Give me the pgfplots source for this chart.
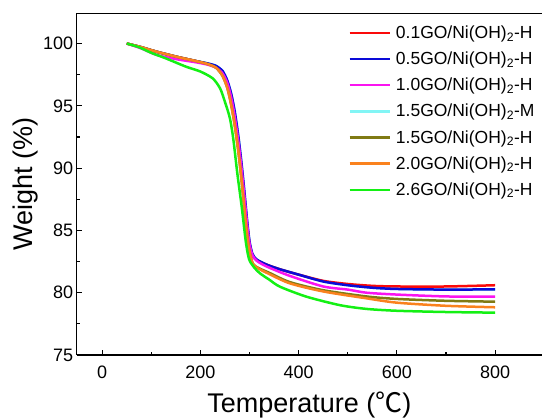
\documentclass[border=0pt]{standalone}
\usepackage{pgfplots}
\pgfplotsset{compat=1.18}
\usepackage{fontspec}
\setmainfont{Liberation Sans}
\newfontfamily\cjk{Noto Sans CJK SC}

\definecolor{cRed}{RGB}{250,10,10}
\definecolor{cBlue}{RGB}{10,10,215}
\definecolor{cMag}{RGB}{250,20,240}
\definecolor{cCyan}{RGB}{130,245,245}
\definecolor{cOlive}{RGB}{128,122,20}
\definecolor{cOrange}{RGB}{250,130,30}
\definecolor{cGreen}{RGB}{20,240,20}

\begin{document}
\begin{tikzpicture}
\begin{axis}[scale only axis, width=465.3bp, height=342bp,
  xmin=-52, xmax=895.5, ymin=75, ymax=102.45,
  axis lines*=left, axis line style={line width=1.5bp},
  xtick={0,200,...,800}, ytick={75,80,...,100},
  minor x tick num=1, minor y tick num=1,
  tick align=inside, major tick length=5bp, minor tick length=3bp,
  tick style={black, line width=1.2bp},
  ticklabel style={font=\fontsize{18bp}{20bp}\selectfont},
  xticklabel style={yshift=-7bp},
  /pgf/number format/assume math mode=true,
  xlabel={Temperature ({\cjk ℃})}, ylabel={Weight (\%)},
  label style={font=\fontsize{27bp}{30bp}\selectfont},
  xlabel style={yshift=-7bp}, ylabel style={yshift=-2bp},
  legend style={draw=none, fill=none, at={(0.995,0.975)}, anchor=north east,
    font=\fontsize{17.5bp}{19bp}\selectfont, row sep=8bp},
  legend cell align=left,
  legend image code/.code={\draw[#1] (0bp,0bp) -- (40bp,0bp); \path (43bp,0bp);},
  every axis plot/.append style={line width=2.5bp, smooth, tension=0.45}]
\coordinate (sw) at (rel axis cs:0,0);
\coordinate (ne) at (rel axis cs:1,1);
\draw[line width=1.5bp] (rel axis cs:0,1) -- (rel axis cs:1,1);

% 1.5GO-M lies under the others, so it is drawn first
\addplot[cCyan, forget plot] coordinates {
(50,100) (80,99.7) (110,99.35) (150,98.95) (190,98.6) (215,98.4) (232,98.2)
(245,97.8) (255,97.0) (263,95.9) (270,94.5) (277,92.6) (283,90.6) (289,88.3)
(295,85.8) (300,84.1) (306,83.1) (315,82.65) (335,82.25) (360,81.9) (400,81.45)
(450,80.9) (500,80.6) (550,80.4) (600,80.3) (700,80.25) (800,80.27)};

\addplot[cRed] coordinates {
(50,100) (80,99.7) (110,99.35) (150,98.95) (190,98.6) (215,98.35) (232,98.1)
(245,97.6) (255,96.8) (263,95.6) (270,94.1) (277,92.2) (283,90.2) (289,87.9)
(295,85.5) (300,83.9) (306,83.0) (315,82.6) (335,82.25) (360,81.9) (400,81.45)
(450,80.95) (500,80.7) (550,80.55) (600,80.5) (700,80.5) (800,80.6)};
\addlegendentry{0.1GO/Ni(OH)\textsubscript{2}-H}

\addplot[cBlue] coordinates {
(50,100) (80,99.7) (110,99.35) (150,98.95) (190,98.6) (215,98.4) (232,98.2)
(245,97.8) (255,97.0) (263,95.9) (270,94.5) (277,92.6) (283,90.6) (289,88.3)
(295,85.8) (300,84.1) (306,83.1) (315,82.65) (335,82.25) (360,81.9) (400,81.45)
(450,80.9) (500,80.6) (550,80.4) (600,80.3) (700,80.25) (800,80.27)};
\addlegendentry{0.5GO/Ni(OH)\textsubscript{2}-H}

\addplot[cMag] coordinates {
(50,100) (80,99.6) (110,99.1) (150,98.75) (190,98.5) (215,98.3) (232,98.05)
(245,97.6) (255,96.8) (263,95.6) (270,94.1) (277,92.2) (283,90.2) (289,87.9)
(295,85.5) (300,83.9) (306,83.0) (315,82.55) (335,82.1) (382,81.35) (450,80.5)
(500,80.25) (538,80.0) (600,79.85) (700,79.7) (800,79.68)};
\addlegendentry{1.0GO/Ni(OH)\textsubscript{2}-H}

\addlegendimage{cCyan, line width=2.5bp}
\addlegendentry{1.5GO/Ni(OH)\textsubscript{2}-M}

\addplot[cOlive] coordinates {
(50,100) (80,99.7) (110,99.35) (150,98.95) (190,98.6) (215,98.35) (232,98.05)
(245,97.4) (255,96.4) (263,95.0) (270,93.4) (277,91.4) (283,89.3) (289,86.9)
(295,84.6) (300,83.3) (307,82.3) (320,81.95) (340,81.6) (382,80.85) (450,80.2)
(538,79.7) (600,79.5) (700,79.35) (800,79.28)};
\addlegendentry{1.5GO/Ni(OH)\textsubscript{2}-H}

\addplot[cOrange] coordinates {
(50,100) (80,99.7) (110,99.35) (150,98.95) (190,98.6) (215,98.35) (232,98.05)
(245,97.4) (255,96.4) (263,95.0) (270,93.4) (277,91.4) (283,89.3) (289,86.9)
(295,84.6) (300,83.3) (307,82.3) (320,81.9) (340,81.5) (382,80.75) (450,80.1)
(538,79.55) (600,79.2) (700,78.95) (800,78.83)};
\addlegendentry{2.0GO/Ni(OH)\textsubscript{2}-H}

\addplot[cGreen] coordinates {
(50,100) (75,99.7) (100,99.25) (130,98.8) (170,98.15) (200,97.75) (225,97.2)
(240,96.4) (250,95.3) (260,94.0) (267,92.3) (275,89.6) (284,86.9) (292,84.2)
(297,83.0) (301,82.5) (310,82.0) (321,81.56) (340,81.05) (362,80.48) (416,79.68)
(484,79.0) (538,78.7) (600,78.55) (700,78.45) (800,78.4)};
\addlegendentry{2.6GO/Ni(OH)\textsubscript{2}-H}
\end{axis}
\pgfresetboundingbox
\path ([shift={(-76.7bp,-64bp)}]sw) rectangle ([shift={(0bp,13bp)}]ne);
\end{tikzpicture}
\end{document}
